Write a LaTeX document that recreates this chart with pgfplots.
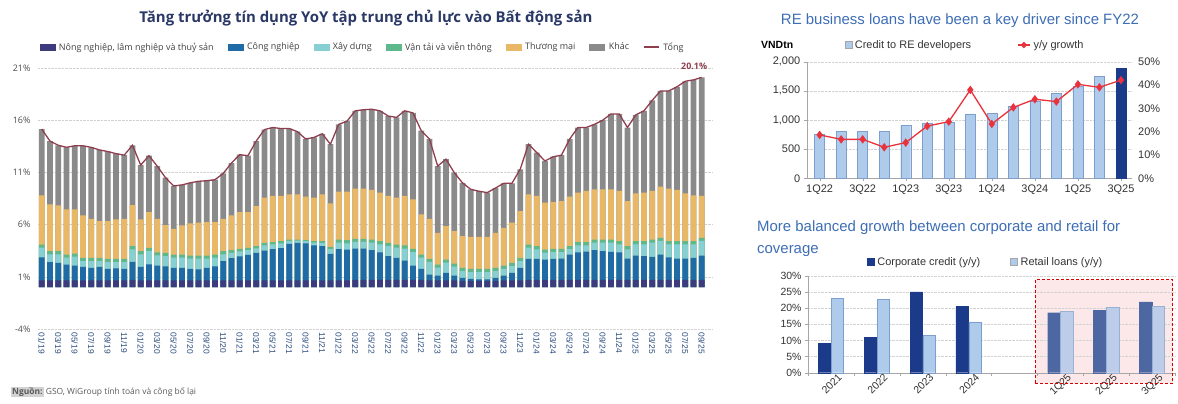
\documentclass[border=0pt]{standalone}
\usepackage{pgfplots}
\pgfplotsset{compat=1.18}
\usepackage{pgfplotstable}
\usepackage{fontspec}
\setmainfont{Liberation Sans}
\newfontfamily\osans{Open Sans}

\definecolor{cAgri}{HTML}{3E3A7E}
\definecolor{cInd}{HTML}{1F6BA5}
\definecolor{cCon}{HTML}{86CFD3}
\definecolor{cTra}{HTML}{5DB98C}
\definecolor{cTrade}{HTML}{E8B867}
\definecolor{cOther}{HTML}{8A8A8A}
\definecolor{cTot}{HTML}{8E3F4F}
\definecolor{cTitle}{HTML}{2A3866}
\definecolor{cTick}{HTML}{2B4C7E}
\definecolor{cBlueT}{HTML}{3D6DB5}
\definecolor{cLight}{HTML}{AECBEB}
\definecolor{cLightE}{HTML}{7E9FCB}
\definecolor{cNavy}{HTML}{1C3A8A}
\definecolor{cNavyM}{HTML}{4D67A2}
\definecolor{cLightM}{HTML}{BCCCE9}
\definecolor{cPink}{HTML}{FCE8E8}
\definecolor{cRed}{HTML}{E8323C}

% cumulative tops: P agri, B industry, Te construction, G transport, Y trade, T total
\pgfplotstableread{
i P B Te G Y T
0 0.65 2.87 3.79 4.09 8.80 15.15
1 0.65 2.40 3.15 3.45 7.94 14.00
2 0.65 2.33 3.15 3.45 7.84 13.60
3 0.65 2.17 2.83 3.13 7.46 13.40
4 0.65 2.07 2.93 3.23 7.46 13.55
5 0.65 1.95 2.51 2.81 6.88 13.55
6 0.65 1.85 2.51 2.81 6.56 13.40
7 0.65 1.95 2.51 2.81 6.34 13.15
8 0.65 1.75 2.41 2.71 6.34 13.00
9 0.65 1.80 2.41 2.71 6.50 12.80
10 0.65 1.75 2.41 2.71 6.56 12.65
11 0.70 2.43 3.63 3.93 7.87 13.60
12 0.65 1.95 3.15 3.45 6.50 11.70
13 0.65 2.20 3.47 3.77 7.20 12.60
14 0.65 2.07 3.05 3.35 6.56 11.60
15 0.65 2.00 2.99 3.29 5.95 10.50
16 0.65 1.85 2.83 3.13 5.60 9.70
17 0.65 1.85 2.83 3.13 5.92 9.80
18 0.65 1.75 2.73 3.03 6.11 10.00
19 0.65 1.70 2.73 3.03 6.18 10.15
20 0.65 1.85 2.73 3.03 6.24 10.20
21 0.65 2.00 2.83 3.13 6.24 10.30
22 0.65 2.50 3.15 3.45 6.56 10.90
23 0.65 2.80 3.30 3.55 6.88 11.90
24 0.65 2.95 3.43 3.67 7.20 12.70
25 0.65 3.10 3.55 3.77 7.20 12.60
26 0.65 3.30 3.73 3.93 7.78 14.00
27 0.65 3.50 4.00 4.25 8.58 15.10
28 0.65 3.65 4.10 4.32 8.74 15.30
29 0.65 3.75 4.19 4.41 8.74 15.20
30 0.65 4.15 4.43 4.57 8.90 15.20
31 0.65 4.25 4.46 4.57 8.90 14.90
32 0.65 4.20 4.41 4.51 8.67 14.20
33 0.65 4.00 4.27 4.41 8.58 14.35
34 0.65 3.95 4.26 4.41 8.90 14.70
35 0.65 3.20 3.65 3.87 8.03 13.70
36 0.65 3.65 4.27 4.57 9.16 15.60
37 0.65 3.60 4.21 4.51 9.16 15.90
38 0.70 3.70 4.34 4.64 9.44 16.90
39 0.70 3.70 4.34 4.64 9.44 17.00
40 0.70 3.55 4.27 4.57 9.32 17.05
41 0.70 3.35 4.11 4.41 9.06 16.90
42 0.70 2.97 3.95 4.25 8.74 16.40
43 0.70 2.81 3.79 4.09 8.58 16.27
44 0.70 2.55 3.70 4.00 8.74 16.90
45 0.70 2.07 3.37 3.67 8.42 16.70
46 0.70 1.75 2.83 3.13 6.98 15.00
47 0.65 1.21 2.41 2.71 6.56 14.20
48 0.65 1.11 1.87 2.17 5.21 11.60
49 0.65 1.37 2.35 2.65 5.85 12.27
50 0.65 1.11 1.97 2.27 5.37 10.98
51 0.60 0.90 1.55 1.85 4.89 10.00
52 0.60 0.80 1.45 1.75 4.83 9.38
53 0.60 0.75 1.45 1.75 4.83 9.20
54 0.60 0.75 1.45 1.75 4.83 9.06
55 0.60 0.90 1.55 1.85 5.21 9.50
56 0.65 1.11 1.77 2.07 5.69 9.96
57 0.65 1.37 2.03 2.33 6.18 9.96
58 0.65 1.85 2.51 2.81 7.30 11.30
59 0.70 2.71 3.79 4.09 8.90 13.70
60 0.70 2.71 3.63 3.93 8.74 12.90
61 0.70 2.65 3.31 3.61 8.10 12.10
62 0.70 2.71 3.37 3.67 8.16 12.50
63 0.70 2.75 3.37 3.67 8.26 12.65
64 0.70 3.13 3.66 3.93 8.67 14.20
65 0.70 3.35 4.02 4.32 9.06 15.30
66 0.70 3.42 4.02 4.32 9.22 15.30
67 0.70 3.55 4.27 4.57 9.38 15.60
68 0.70 3.45 4.27 4.57 9.38 16.00
69 0.70 3.39 4.27 4.57 9.38 16.60
70 0.70 3.35 4.11 4.41 9.22 16.60
71 0.70 2.75 3.63 3.93 8.26 15.30
72 0.70 3.03 4.11 4.41 9.00 16.50
73 0.70 2.97 4.11 4.41 9.06 16.90
74 0.70 2.90 4.27 4.57 9.22 17.90
75 0.70 3.13 4.43 4.73 9.63 18.80
76 0.70 2.87 4.11 4.41 9.44 18.80
77 0.70 2.75 4.11 4.41 9.32 19.20
78 0.70 2.75 4.11 4.41 9.00 19.73
79 0.70 2.81 4.11 4.41 8.80 19.86
80 0.70 3.03 4.43 4.73 8.74 20.10
}\credit

\pgfplotstableread{
q loans growth
0 750 18.6
1 800 16.7
2 800 16.7
3 800 13.3
4 914 15.3
5 950 22.4
6 965 24.3
7 1103 37.9
8 1114 23.3
9 1240 30.4
10 1314 33.9
11 1457 32.9
12 1580 40.3
13 1754 39.0
}\reloans

\pgfplotstableread{
x corp retail
0 9.1 23.1
1 11.0 22.8
2 25.1 11.5
3 20.5 15.8
}\mixyears

\pgfplotstableread{
x corp retail
5 18.6 19.0
6 19.4 20.3
7 22.0 20.5
}\mixquarters

\begin{document}
\begin{tikzpicture}[x=1bp,y=1bp]
\useasboundingbox (0,0) rectangle (1178,403);

% ---------------- left chart ----------------
\node[font=\osans\bfseries\fontsize{15}{18}\selectfont, text=cTitle] at (366,385)
  {Tăng trưởng tín dụng YoY tập trung chủ lực vào Bất động sản};

\begin{axis}[
  at={(38bp,74bp)}, anchor=south west, scale only axis,
  width=674bp, height=261bp,
  xmin=-0.45, xmax=81.25, ymin=-4, ymax=21,
  axis line style={draw=none}, major tick length=0pt,
  ymajorgrids, grid style={densely dotted, gray!35},
  ytick={-4,1,6,11,16,21},
  yticklabels={-4\%,1\%,6\%,11\%,16\%,21\%},
  yticklabel style={font=\osans\fontsize{9}{10}\selectfont, text=black!70, xshift=-4bp},
  xtick={0,2,...,80},
  xticklabels={01/19,03/19,05/19,07/19,09/19,11/19,01/20,03/20,05/20,07/20,09/20,11/20,
    01/21,03/21,05/21,07/21,09/21,11/21,01/22,03/22,05/22,07/22,09/22,11/22,
    01/23,03/23,05/23,07/23,09/23,11/23,01/24,03/24,05/24,07/24,09/24,11/24,
    01/25,03/25,05/25,07/25,09/25},
  xticklabel style={rotate=-90, anchor=west, font=\fontsize{8.5}{9}\selectfont, text=cTick},
  clip=false,
  legend columns=7,
  legend style={at={(0.4815,1.08)}, anchor=center, draw=none, fill=none,
    font=\osans\fontsize{9}{10}\selectfont, text=black!75,
    /tikz/every odd column/.append style={column sep=2bp},
    /tikz/every even column/.append style={column sep=12bp}},
]
\addlegendimage{legend image code/.code={\fill[cAgri] (0bp,-3bp) rectangle (15bp,3bp);}}
\addlegendentry{Nông nghiệp, lâm nghiệp và thuỷ sản}
\addlegendimage{legend image code/.code={\fill[cInd] (0bp,-3bp) rectangle (15bp,3bp);}}
\addlegendentry{Công nghiệp}
\addlegendimage{legend image code/.code={\fill[cCon] (0bp,-3bp) rectangle (15bp,3bp);}}
\addlegendentry{Xây dựng}
\addlegendimage{legend image code/.code={\fill[cTra] (0bp,-3bp) rectangle (15bp,3bp);}}
\addlegendentry{Vận tải và viễn thông}
\addlegendimage{legend image code/.code={\fill[cTrade] (0bp,-3bp) rectangle (15bp,3bp);}}
\addlegendentry{Thương mại}
\addlegendimage{legend image code/.code={\fill[cOther] (0bp,-3bp) rectangle (15bp,3bp);}}
\addlegendentry{Khác}
\addlegendimage{legend image code/.code={\draw[cTot, line width=1.3bp] (0bp,0bp) -- (15bp,0bp);}}
\addlegendentry{Tổng}

\addplot[ybar, bar width=5.6bp, bar shift=0pt, fill=cOther, draw=none, forget plot] table[x=i, y=T] {\credit};
\addplot[ybar, bar width=5.6bp, bar shift=0pt, fill=cTrade, draw=none, forget plot] table[x=i, y=Y] {\credit};
\addplot[ybar, bar width=5.6bp, bar shift=0pt, fill=cTra, draw=none, forget plot] table[x=i, y=G] {\credit};
\addplot[ybar, bar width=5.6bp, bar shift=0pt, fill=cCon, draw=none, forget plot] table[x=i, y=Te] {\credit};
\addplot[ybar, bar width=5.6bp, bar shift=0pt, fill=cInd, draw=none, forget plot] table[x=i, y=B] {\credit};
\addplot[ybar, bar width=5.6bp, bar shift=0pt, fill=cAgri, draw=none, forget plot] table[x=i, y=P] {\credit};
\addplot[sharp plot, cTot, line width=1.3bp, mark=none, forget plot] table[x=i, y=T] {\credit};
\node[anchor=south east, font=\osans\bfseries\fontsize{9}{10}\selectfont, text=cTot]
  at (axis cs:80,20.1) [xshift=9bp, yshift=4bp] {20.1\%};
\end{axis}

\node[anchor=west, font=\osans\fontsize{8.5}{10}\selectfont, text=black!65, inner sep=0pt] at (11,11)
  {{\setlength{\fboxsep}{1bp}\colorbox{gray!35}{\textbf{Nguồn:}}} GSO, WiGroup tính toán và công bố lại};

% ---------------- top right chart ----------------
\node[font=\fontsize{15}{18}\selectfont, text=cBlueT] at (960,382)
  {RE business loans have been a key driver since FY22};
\node[anchor=west, font=\bfseries\fontsize{10.5}{12}\selectfont, inner sep=0pt] at (761,358) {VNDtn};

\begin{axis}[
  at={(806.7bp,224.7bp)}, anchor=south west, scale only axis,
  width=325bp, height=116.6bp,
  xmin=-0.6, xmax=14.5, ymin=0, ymax=2000,
  axis x line*=bottom, axis y line*=left,
  axis line style={gray!70},
  tick align=outside, major tick length=3bp, tick style={gray!70},
  ytick={0,500,...,2000},
  yticklabels={0,500,{1,000},{1,500},{2,000}},
  ymajorgrids, grid style={densely dotted, gray!35},
  xtick={0,2,...,14},
  xticklabels={1Q22,3Q22,1Q23,3Q23,1Q24,3Q24,1Q25,3Q25},
  ticklabel style={font=\fontsize{11}{12}\selectfont, text=black!80},
  clip=false,
  legend columns=2,
  legend style={at={(0.487,1.143)}, anchor=center, draw=none, fill=none,
    font=\fontsize{11}{12}\selectfont, text=black!80,
    /tikz/every odd column/.append style={column sep=1bp},
    /tikz/every even column/.append style={column sep=44bp}},
]
\addlegendimage{legend image code/.code={\filldraw[fill=cLight, draw=gray!70] (0bp,-3.5bp) rectangle (7bp,3.5bp);}}
\addlegendentry{Credit to RE developers}
\addlegendimage{legend image code/.code={\draw[cRed, line width=1.3bp] (0bp,0bp) -- (12bp,0bp); \fill[cRed] (6bp,0bp) +(0,3bp) -- +(3bp,0) -- +(0,-3bp) -- +(-3bp,0) -- cycle;}}
\addlegendentry{y/y growth}
\addplot[ybar, bar width=10bp, bar shift=0pt, fill=cLight, draw=cLightE, line width=0.4bp, forget plot]
  table[x=q, y=loans] {\reloans};
\addplot[ybar, bar width=10bp, bar shift=0pt, fill=cNavy, draw=cNavy, forget plot]
  coordinates {(14,1886)};
\end{axis}

\begin{axis}[
  at={(806.7bp,224.7bp)}, anchor=south west, scale only axis,
  width=325bp, height=116.6bp,
  xmin=-0.6, xmax=14.5, ymin=0, ymax=50,
  axis x line=none, axis y line*=right,
  axis line style={draw=none},
  major tick length=0pt,
  ytick={0,10,...,50},
  yticklabels={0\%,10\%,20\%,30\%,40\%,50\%},
  yticklabel style={font=\fontsize{11}{12}\selectfont, text=black!80, xshift=3bp},
  clip=false,
]
\addplot[sharp plot, cRed, line width=1.3bp, mark=diamond*, mark size=3.2bp,
  mark options={fill=cRed, draw=cRed}] table[x=q, y=growth] {
q growth
0 18.6
1 16.7
2 16.7
3 13.3
4 15.3
5 22.4
6 24.3
7 37.9
8 23.3
9 30.4
10 33.9
11 32.9
12 40.3
13 39.0
14 42.1
};
\end{axis}

% ---------------- bottom right chart ----------------
\node[anchor=north west, align=left, font=\fontsize{15}{23}\selectfont, text=cBlueT, inner sep=0pt] at (757,183)
  {More balanced growth between corporate and retail for\\coverage};

% highlighted quarters, drawn behind the axis
\fill[cPink] (1035.1,20) rectangle (1172.7,123.1);

\begin{axis}[
  at={(808bp,30.3bp)}, anchor=south west, scale only axis,
  width=367bp, height=96.7bp,
  xmin=-0.5, xmax=7.5, ymin=0, ymax=30,
  axis x line*=bottom, axis y line*=left,
  axis line style={gray!70},
  tick align=outside, major tick length=3bp, tick style={gray!70},
  ytick={0,5,...,30},
  yticklabels={0\%,5\%,10\%,15\%,20\%,25\%,30\%},
  ymajorgrids, grid style={densely dotted, gray!35},
  xtick={-0.5,0.5,...,7.5}, xticklabels={},
  extra x ticks={0,1,2,3,5,6,7},
  extra x tick labels={2021,2022,2023,2024,1Q25,2Q25,3Q25},
  extra x tick style={major tick length=0pt,
    xticklabel style={rotate=45, anchor=north east, xshift=8bp, yshift=-1bp}},
  ticklabel style={font=\fontsize{10.5}{12}\selectfont, text=black!80},
  clip=false,
  legend columns=2,
  legend style={at={(0.484,1.145)}, anchor=center, draw=none, fill=none,
    font=\fontsize{11}{12}\selectfont, text=black!80,
    /tikz/every odd column/.append style={column sep=1bp},
    /tikz/every even column/.append style={column sep=28bp}},
]
\addlegendimage{legend image code/.code={\fill[cNavy] (0bp,-3.5bp) rectangle (7bp,3.5bp);}}
\addlegendentry{Corporate credit (y/y)}
\addlegendimage{legend image code/.code={\filldraw[fill=cLight, draw=gray!70] (0bp,-3.5bp) rectangle (7bp,3.5bp);}}
\addlegendentry{Retail loans (y/y)}
\addplot[ybar, bar width=12.4bp, bar shift=-6.4bp, fill=cNavy, draw=cNavy, forget plot]
  table[x=x, y=corp] {\mixyears};
\addplot[ybar, bar width=12.4bp, bar shift=6.4bp, fill=cLight, draw=cLightE, line width=0.4bp, forget plot]
  table[x=x, y=retail] {\mixyears};
\addplot[ybar, bar width=12.4bp, bar shift=-6.4bp, fill=cNavyM, draw=cNavyM, forget plot]
  table[x=x, y=corp] {\mixquarters};
\addplot[ybar, bar width=12.4bp, bar shift=6.4bp, fill=cLightM, draw=cLightE!80, line width=0.4bp, forget plot]
  table[x=x, y=retail] {\mixquarters};
\draw[red!85!black, densely dashed, line width=1bp] (axis cs:4.45,-3.2) rectangle (axis cs:7.45,28.8);
\end{axis}
\end{tikzpicture}
\end{document}
